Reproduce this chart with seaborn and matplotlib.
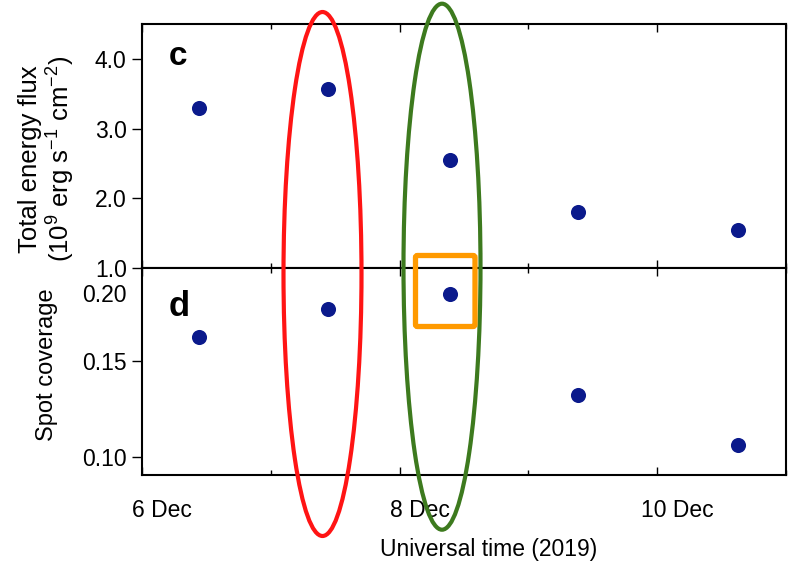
import matplotlib
matplotlib.use("Agg")
import matplotlib.pyplot as plt
import matplotlib.dates as mdates
import matplotlib.ticker as mticker
import matplotlib.transforms as mtransforms
from matplotlib.patches import Ellipse, FancyBboxPatch
import pandas as pd
import seaborn as sns

# Observation epochs (UT) and derived quantities
obs_times = ["2019-12-06 10:41", "2019-12-07 10:38", "2019-12-08 09:18",
             "2019-12-09 09:10", "2019-12-10 15:01"]
energy_flux = [3.30, 3.58, 2.56, 1.81, 1.55]          # 1e9 erg s^-1 cm^-2
spot_coverage = [0.166, 0.187, 0.199, 0.130, 0.105]

flux_ticks = [1.0, 2.0, 3.0, 4.0]
coverage_ticks = [0.10, 0.15, 0.20]
coverage_labels = ["0.10", "0.15", "0.20"]
labelled_days = [6, 8, 10]
other_days = [7, 9, 11]
time_range = ["2019-12-06", "2019-12-11"]

df = pd.DataFrame({"time": pd.to_datetime(obs_times),
                   "flux": energy_flux,
                   "coverage": spot_coverage})

sns.set_theme(style="ticks")
plt.rcParams["font.family"] = ["Liberation Sans", "DejaVu Sans"]
plt.rcParams["mathtext.fontset"] = "custom"
plt.rcParams["mathtext.rm"] = "Liberation Sans"
plt.rcParams["mathtext.it"] = "Liberation Sans:italic"
plt.rcParams["mathtext.bf"] = "Liberation Sans:bold"
plt.rcParams["text.color"] = "black"
plt.rcParams["axes.labelcolor"] = "black"
plt.rcParams["xtick.color"] = "black"
plt.rcParams["ytick.color"] = "black"
plt.rcParams["axes.edgecolor"] = "black"

W, H = 789, 563
fig = plt.figure(figsize=(W / 100, H / 100), dpi=100)
fig.patch.set_facecolor("white")

ax_top = fig.add_axes([142 / W, 1 - 268 / H, 644 / W, 244 / H])
ax_bot = fig.add_axes([142 / W, 1 - 475 / H, 644 / W, 207 / H], sharex=ax_top)

dot_color = "#0b1a8c"
sns.scatterplot(data=df, x="time", y="flux", ax=ax_top, color=dot_color,
                s=118, linewidth=0, legend=False, zorder=3)
sns.scatterplot(data=df, x="time", y="coverage", ax=ax_bot, color=dot_color,
                s=118, linewidth=0, legend=False, zorder=3)

# shared time axis
ax_top.set_xlim(pd.Timestamp(time_range[0]), pd.Timestamp(time_range[1]))
ax_top.xaxis.set_major_locator(mdates.DayLocator(bymonthday=labelled_days))
ax_top.xaxis.set_minor_locator(mdates.DayLocator(bymonthday=other_days))
ax_top.xaxis.set_major_formatter(mdates.DateFormatter("%-d %b"))

# upper panel: energy flux
ax_top.set_ylim(1.0, 4.51)
ax_top.set_yticks(flux_ticks)
ax_top.yaxis.set_major_formatter(mticker.FormatStrFormatter("%.1f"))

# lower panel: spot coverage (log scale)
ax_bot.set_yscale("log")
ax_bot.set_ylim(0.0927, 0.2222)
ax_bot.set_yticks(coverage_ticks)
ax_bot.set_yticklabels(coverage_labels)
ax_bot.yaxis.set_minor_locator(mticker.NullLocator())

for ax in (ax_top, ax_bot):
    for sp in ax.spines.values():
        sp.set_visible(True)
        sp.set_linewidth(1.5)
        sp.set_color("black")
    ax.tick_params(axis="y", which="major", direction="out", length=7,
                   width=1, pad=4, labelsize=16.5, right=False, colors="black")
    ax.tick_params(axis="x", which="both", direction="in", top=True,
                   bottom=True, width=1, colors="black")
    ax.tick_params(axis="x", which="major", length=6)
    ax.tick_params(axis="x", which="minor", length=3.5)
    ax.grid(False)
    ax.set_xlabel("")
    ax.set_ylabel("")

ax_top.tick_params(axis="x", labelbottom=False)
ax_bot.tick_params(axis="x", which="major", labelsize=16.5, pad=17)

# 0.20 is labelled without a tick mark
ax_bot.yaxis.get_major_ticks()[2].tick1line.set_visible(False)

ax_top.set_ylabel("Total energy flux\n(10$^{9}$ erg s$^{-1}$ cm$^{-2}$)",
                  fontsize=18.5, linespacing=1.1, color="black")
ax_top.yaxis.set_label_coords(-0.101, 0.445)
ax_bot.set_ylabel("Spot coverage", fontsize=17, color="black")
ax_bot.yaxis.set_label_coords(-0.130, 0.531)
ax_bot.set_xlabel("Universal time (2019)", fontsize=16.5, color="black")
ax_bot.xaxis.set_label_coords(0.539, -0.305)

# panel letters
ax_top.text(0.042, 0.832, "c", transform=ax_top.transAxes, fontsize=24,
            fontweight="bold", va="baseline", ha="left", color="black")
ax_bot.text(0.042, 0.768, "d", transform=ax_bot.transAxes, fontsize=25,
            fontweight="bold", va="baseline", ha="left", color="black")

fig.canvas.draw()
shift = mtransforms.ScaledTranslation(0.20, 0, fig.dpi_scale_trans)
for lab in ax_bot.get_xticklabels():
    lab.set_transform(lab.get_transform() + shift)

# highlight overlay in figure pixel space
ov = fig.add_axes([0, 0, 1, 1], zorder=10)
ov.set_xlim(0, W)
ov.set_ylim(H, 0)
ov.axis("off")
ov.patch.set_alpha(0)
ov.add_patch(Ellipse((322.5, 274), 78, 524, fill=False, ec="#ff1414", lw=3.0))
ov.add_patch(Ellipse((442, 266.7), 77, 526, fill=False, ec="#3d7a1e", lw=3.0))
ov.add_patch(FancyBboxPatch((415.5, 255.5), 59.5, 71,
                            boxstyle="round,pad=0,rounding_size=2",
                            fill=False, ec="#ff9a00", lw=3.8))

fig.savefig("out.png", dpi=100, facecolor="white")
